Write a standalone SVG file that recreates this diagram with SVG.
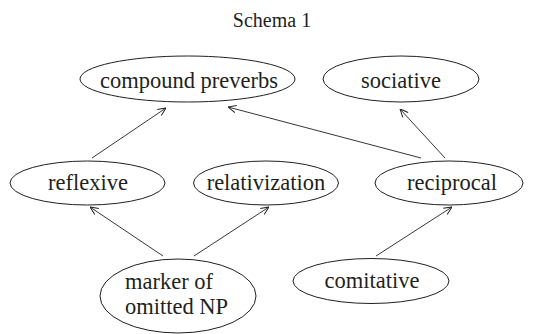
<svg xmlns="http://www.w3.org/2000/svg" width="551" height="334" viewBox="0 0 551 334">
<defs>
<style>
.n ellipse{fill:none;stroke:#231f20;stroke-width:1}
.n text, .t{font-family:"Liberation Serif","Times New Roman",serif;fill:#231f20;text-anchor:middle}
.n text{font-size:22.5px}
.n text.l{text-anchor:start}
.t{font-size:20px}
.e line{stroke:#231f20;stroke-width:0.9;fill:none;marker-end:url(#ah)}
</style>
<marker id="ah" viewBox="0 0 10 10" refX="10" refY="5" markerWidth="9" markerHeight="9" markerUnits="userSpaceOnUse" orient="auto">
<path d="M1,1 L10,5 L1,9" fill="none" stroke="#231f20" stroke-width="1.1"/>
</marker>
</defs>
<rect width="551" height="334" fill="#fff"/>
<text class="t" x="272" y="27">Schema 1</text>
<g class="e" id="connectors">
<line x1="92" y1="158" x2="166" y2="108"/>
<line x1="421" y1="158" x2="228" y2="107"/>
<line x1="445" y1="158" x2="400" y2="109"/>
<line x1="163" y1="256" x2="90" y2="207"/>
<line x1="194" y1="256" x2="269" y2="207"/>
<line x1="376" y1="256" x2="452" y2="207"/>
</g>
<g class="n" id="compound"><ellipse cx="187.5" cy="79" rx="107.5" ry="23"/><text x="189" y="88">compound preverbs</text></g>
<g class="n" id="sociative"><ellipse cx="401" cy="79" rx="78" ry="23"/><text x="401" y="88">sociative</text></g>
<g class="n" id="reflexive"><ellipse cx="87.5" cy="183" rx="77.5" ry="22"/><text x="88" y="190">reflexive</text></g>
<g class="n" id="relativization"><ellipse cx="266" cy="183" rx="72.5" ry="22"/><text x="266" y="190">relativization</text></g>
<g class="n" id="reciprocal"><ellipse cx="449" cy="183" rx="74" ry="22"/><text x="452" y="190">reciprocal</text></g>
<g class="n" id="marker"><ellipse cx="178" cy="296" rx="78" ry="37"/><text class="l" x="125" y="289">marker of</text><text class="l" x="125" y="314">omitted NP</text></g>
<g class="n" id="comitative"><ellipse cx="371" cy="281" rx="78" ry="22.5"/><text x="372" y="288">comitative</text></g>
</svg>
